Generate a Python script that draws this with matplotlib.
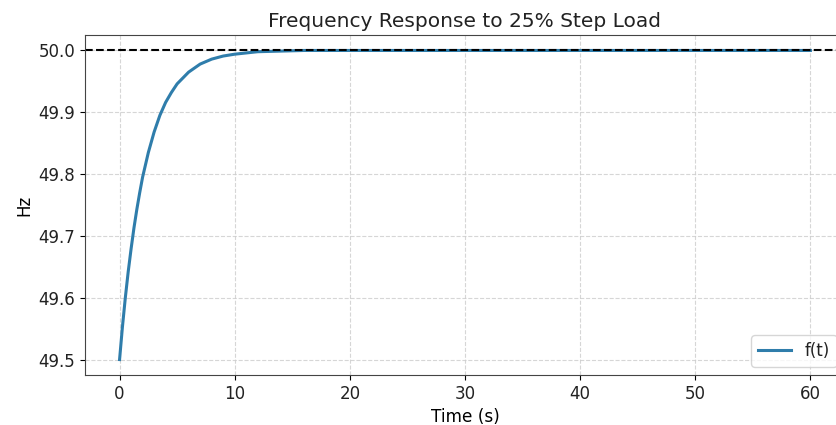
import matplotlib
matplotlib.use("Agg")
from matplotlib import pyplot as plt

# values
time_s = [0, 0.25, 0.5, 0.75, 1.0, 1.25, 1.5, 1.75, 2.0, 2.5, 3.0, 3.5, 4.0,
          4.5, 5.0, 6.0, 7.0, 8.0, 9.0, 10, 12, 14, 16, 60]
freq_hz = [49.500, 49.553, 49.600, 49.642, 49.679, 49.713, 49.743, 49.770,
           49.795, 49.835, 49.868, 49.895, 49.916, 49.932, 49.946, 49.965,
           49.978, 49.986, 49.991, 49.994, 49.998, 49.999, 50.000, 50.000]
nominal = 50.0

plt.rcParams['text.color'] = '#222222'
plt.rcParams['xtick.labelcolor'] = '#222222'
plt.rcParams['ytick.labelcolor'] = '#222222'

fig = plt.figure(figsize=(8.36, 4.25), dpi=100)
ax = fig.add_axes([0.1017, 0.1176, 0.909, 0.8])

ax.plot(time_s, freq_hz, color="#2f7dab", lw=2.2, label="f(t)")
ax.axhline(nominal, color="black", ls="--", lw=1.5)

ax.set_xlim(-3, 63)
ax.set_ylim(49.475, 50.025)
ax.set_xticks([0, 10, 20, 30, 40, 50, 60])
ax.set_yticks([49.5, 49.6, 49.7, 49.8, 49.9, 50.0])
ax.grid(True, ls="--", color="#cccccc", alpha=0.8)
ax.tick_params(labelsize=12)
for s in ax.spines.values():
    s.set_color("#444444")

ax.set_title("Frequency Response to 25% Step Load", fontsize=14.5)
ax.set_xlabel("Time (s)", fontsize=12.2)
ax.set_ylabel("Hz", fontsize=12)
ax.legend(loc="lower right", fontsize=12)

fig.savefig("out.png", dpi=100)
